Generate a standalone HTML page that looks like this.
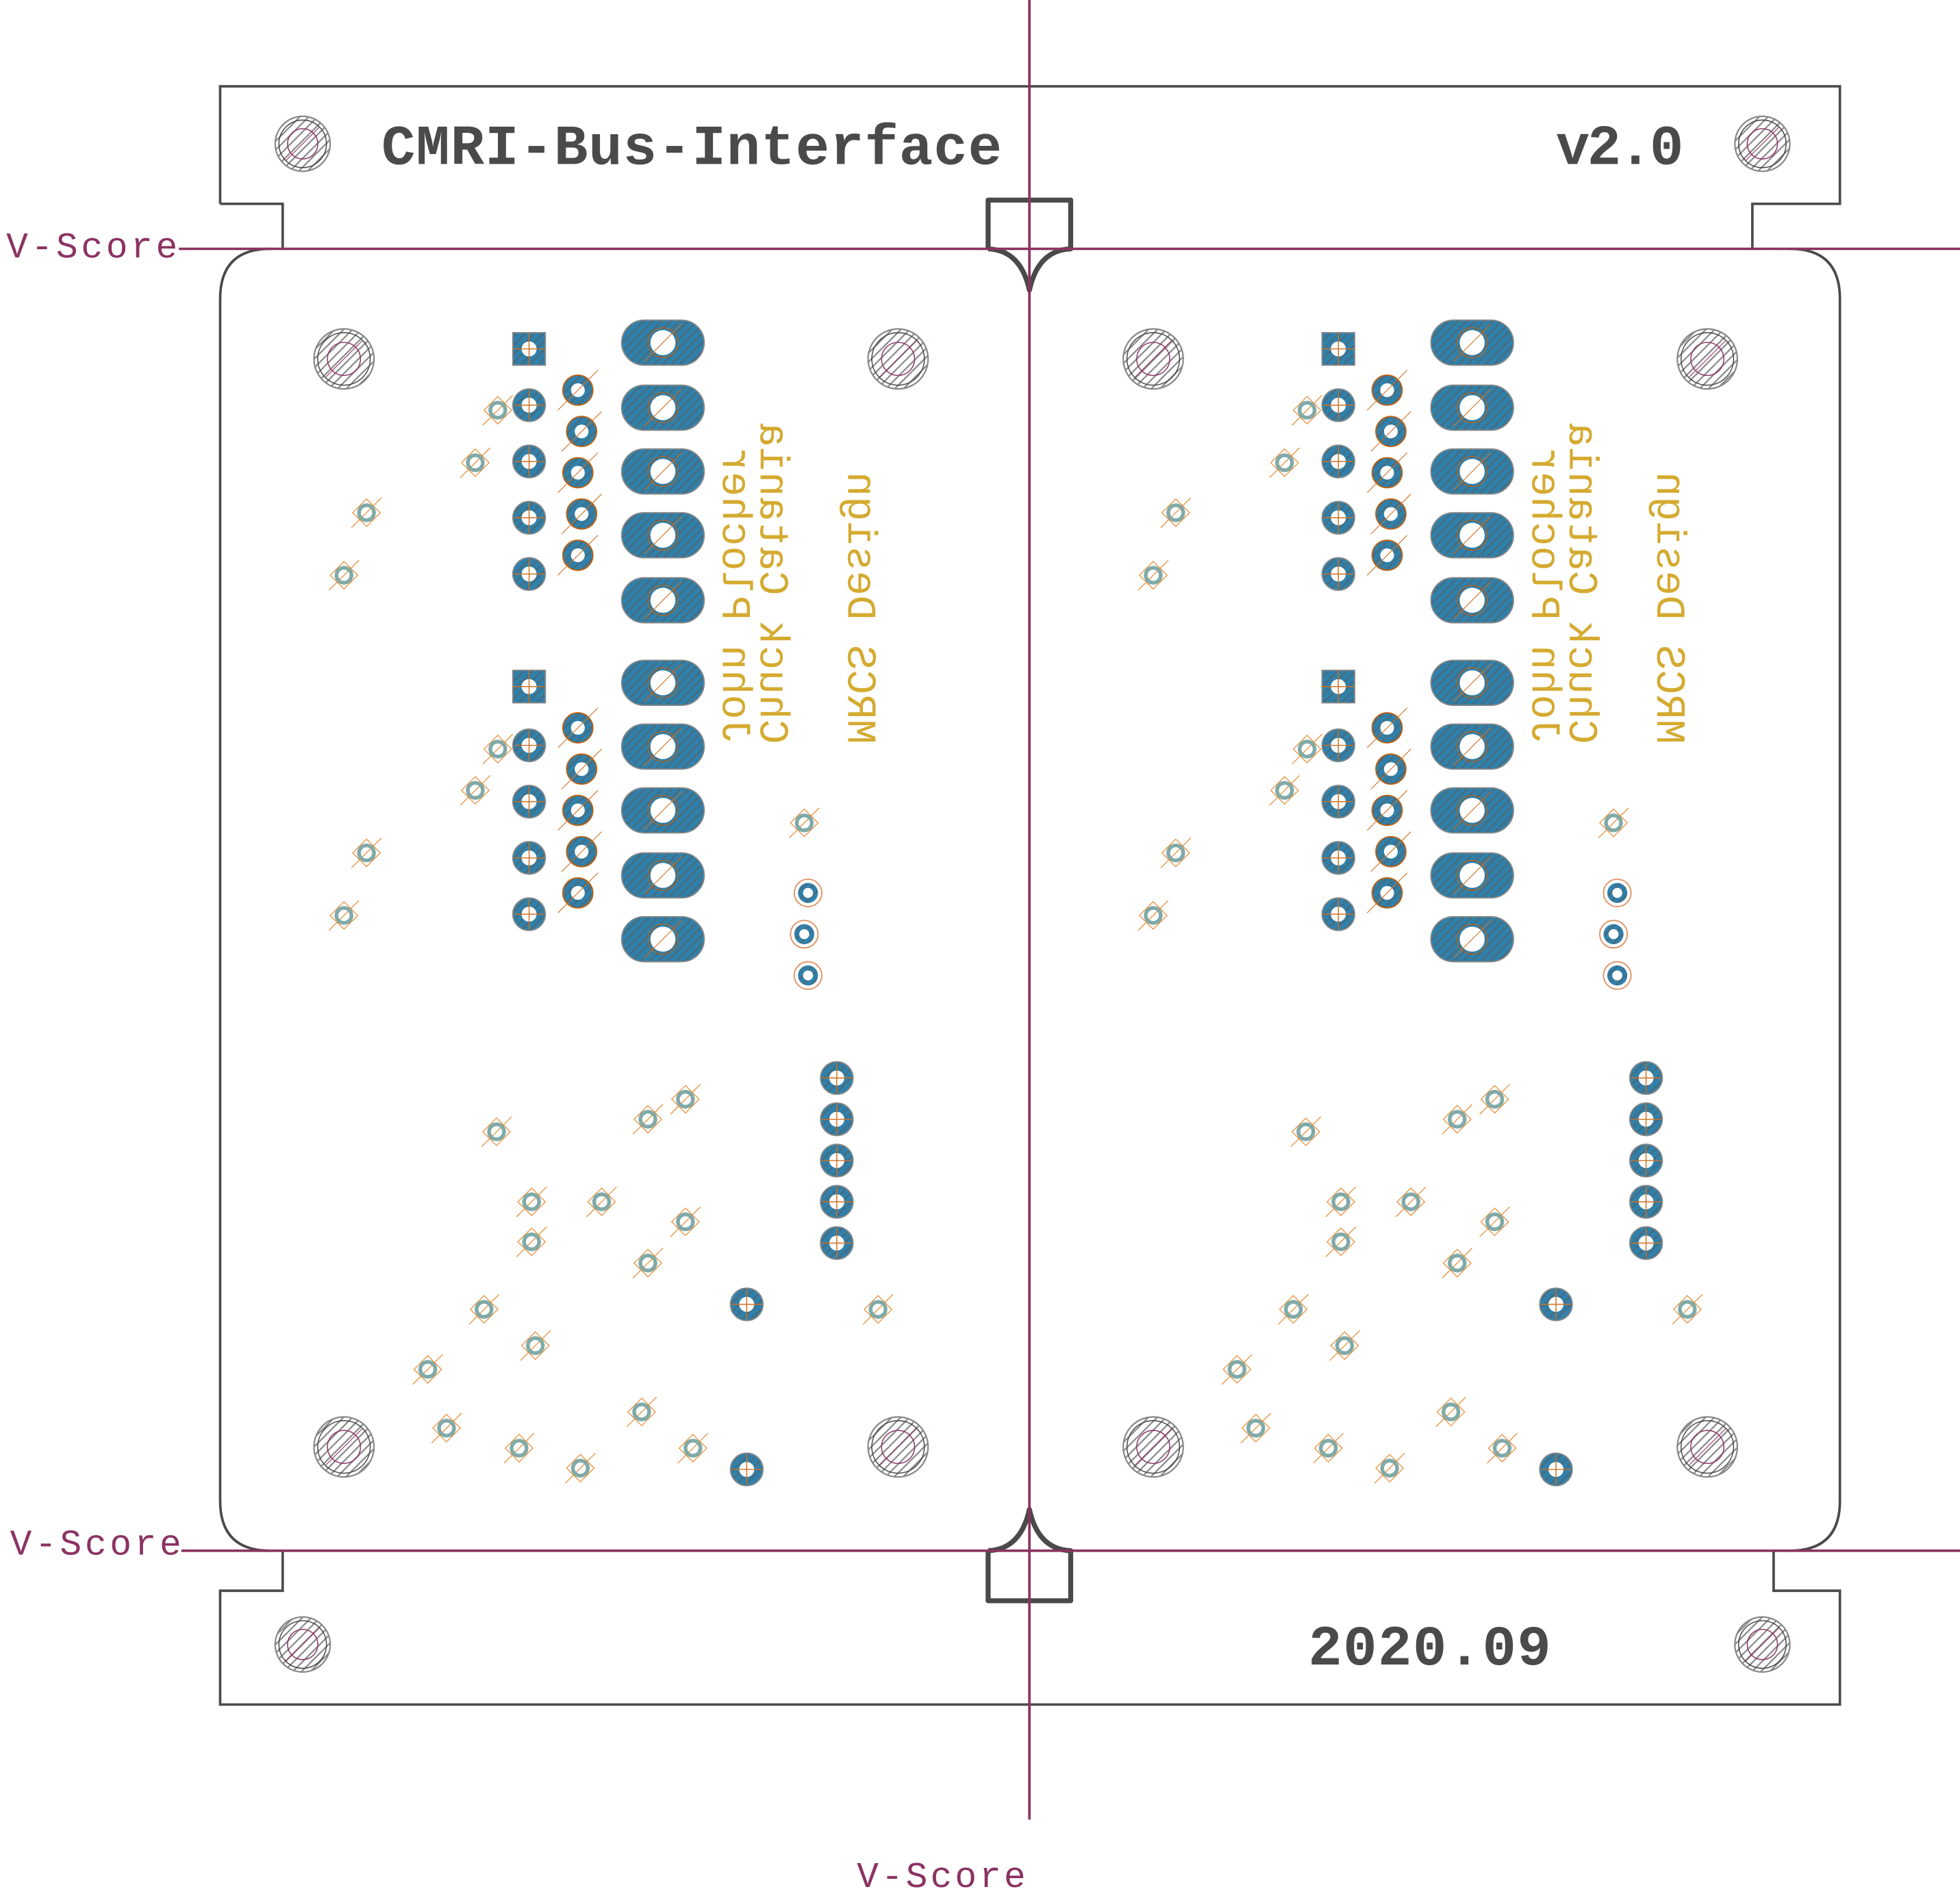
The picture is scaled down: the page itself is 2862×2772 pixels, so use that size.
<!DOCTYPE html>
<html><head><meta charset="utf-8"><style>html,body{margin:0;padding:0;background:#fff}svg{display:block}</style></head>
<body>
<svg id="pcb" xmlns="http://www.w3.org/2000/svg" width="2862" height="2772" viewBox="0 0 1567 1517.7" preserveAspectRatio="none">
<defs>
<pattern id="hb" patternUnits="userSpaceOnUse" width="5" height="5" patternTransform="rotate(45)"><rect width="5" height="5" fill="#2f80aa"/><rect width="1.2" height="5" fill="#4a6a7a"/></pattern>
<pattern id="hg" patternUnits="userSpaceOnUse" width="5" height="5" patternTransform="rotate(45)"><rect width="5" height="5" fill="#fff"/><rect width="1.2" height="5" fill="#888"/></pattern>
</defs>
<g fill="none" stroke="#4a4a4a" stroke-width="2">
<path d="M176,163 L176,69 L1471,69 L1471,163 L1401,163 L1401,199"/>
<path d="M176,163 L226,163 L226,199"/>
<path d="M216,199 Q176,199 176,239 L176,1200 Q176,1240 216,1240"/>
<path d="M1431,199 Q1471,199 1471,239 L1471,1200 Q1471,1240 1431,1240"/>
<path d="M226,1240 L226,1272 L176,1272 L176,1363 L1471,1363 L1471,1272 L1418,1272 L1418,1240"/>
</g>
<g fill="none" stroke="#4a4a4a" stroke-width="4" stroke-linejoin="round">
<path d="M790,199 L790,160 L856,160 L856,199 Q830,200 823,232 Q816,200 790,199"/>
<path d="M790,1240 L790,1280 L856,1280 L856,1240 Q830,1239 823,1207 Q816,1239 790,1240"/>
</g>
<g stroke="#8b3362" stroke-width="2">
<line x1="823" y1="0" x2="823" y2="1455"/>
<line x1="143" y1="199" x2="1567" y2="199"/>
<line x1="145" y1="1240" x2="1567" y2="1240"/>
</g>
<g font-family="Liberation Mono, monospace" font-size="29" fill="#8b3362">
<text x="5" y="206" textLength="137">V-Score</text>
<text x="8" y="1243" textLength="137">V-Score</text>
<text x="685" y="1509" textLength="135">V-Score</text>
</g>
<g font-family="Liberation Mono, monospace" font-weight="bold" fill="#4a4a4a">
<text x="305" y="131" font-size="45" textLength="496">CMRI-Bus-Interface</text>
<text x="1244" y="131" font-size="45" textLength="102">v2.0</text>
<text x="1046" y="1331" font-size="45" textLength="194">2020.09</text>
</g>
<g id="layer"></g>
</svg>
<script>
const NS='http://www.w3.org/2000/svg';
const layer=document.getElementById('layer');
const boardOffsets=[0,647];
const railHoles=[[242,115],[1409,115],[242,1315],[1409,1315]];
const boardHoles=[[275,287],[718,287],[275,1157],[718,1157]];
const squarePads=[[423,279],[423,549]];
const roundPads=[[423,324],[423,369],[423,414],[423,459],[423,596],[423,641],[423,686],[423,731],[669,862],[669,895],[669,928],[669,961],[669,994],[597,1043],[597,1175]];
const smallPads=[[462,312],[465,345],[462,378],[465,411],[462,444],[462,582],[465,615],[462,648],[465,681],[462,714]];
const oblongPads=[[530,274],[530,326],[530,377],[530,428],[530,480],[530,546],[530,597],[530,648],[530,700],[530,751]];
const ringPads=[[646,714],[643,747],[646,780]];
const vias=[[398,328],[380,370],[293,410],[275,460],[398,599],[380,632],[293,682],[275,732],[643,658],[397,905],[518,895],[548,879],[425,961],[481,961],[548,977],[425,993],[518,1010],[387,1047],[428,1076],[702,1047],[342,1095],[357,1142],[415,1158],[464,1174],[513,1129],[554,1158]];
const credits=[['John Plocher',578,595],['Chuck Catania',608,595],['MRCS Design',678,595]];
function el(tag,attrs,parent){const e=document.createElementNS(NS,tag);for(const k in attrs)e.setAttribute(k,attrs[k]);(parent||layer).appendChild(e);return e;}
function hole(x,y,r){
  const g=el('g',{});
  
  
  el('circle',{cx:x,cy:y,r:r,fill:'url(#hg)',stroke:'#888','stroke-width':1.2},g);
  el('circle',{cx:x,cy:y,r:r-3,fill:'none',stroke:'#444','stroke-width':0.8},g);
  el('circle',{cx:x,cy:y,r:r*0.55,fill:'none',stroke:'#8b3362','stroke-width':0.8},g);
  el('line',{x1:x-r*0.6,y1:y+r*0.6,x2:x+r*0.6,y2:y-r*0.6,stroke:'#8b3362','stroke-width':0.6},g);
}
railHoles.forEach(p=>hole(p[0],p[1],22));
boardOffsets.forEach(o=>{
  boardHoles.forEach(p=>hole(p[0]+o,p[1],24));
  squarePads.forEach(p=>{const x=p[0]+o,y=p[1];
    const g=el('g',{});
    
    
    el('rect',{x:x-13,y:y-13,width:26,height:26,fill:'url(#hb)',stroke:'#888','stroke-width':1},g);
    el('circle',{cx:x,cy:y,r:6,fill:'#fff'},g);
    el('path',{d:`M${x-13},${y}H${x+13}M${x},${y-13}V${y+13}`,stroke:'#d07020','stroke-width':0.8},g);});
  roundPads.forEach(p=>{const x=p[0]+o,y=p[1];
    const g=el('g',{});
    
    
    el('circle',{cx:x,cy:y,r:13,fill:'url(#hb)',stroke:'#888','stroke-width':1},g);
    el('circle',{cx:x,cy:y,r:6,fill:'#fff'},g);
    el('path',{d:`M${x-12},${y}H${x+12}M${x},${y-12}V${y+12}`,stroke:'#d07020','stroke-width':0.8},g);});
  smallPads.forEach(p=>{const x=p[0]+o,y=p[1];
    const g=el('g',{});
    
    
    el('circle',{cx:x,cy:y,r:12,fill:'url(#hb)',stroke:'#c06010','stroke-width':1},g);
    el('circle',{cx:x,cy:y,r:5.5,fill:'#fff'},g);
    el('line',{x1:x-16,y1:y+16,x2:x+16,y2:y-16,stroke:'#d07020','stroke-width':0.6},g);});
  oblongPads.forEach(p=>{const x=p[0]+o,y=p[1];
    const g=el('g',{});
    
    
    el('rect',{x:x-33,y:y-18,width:66,height:36,rx:18,fill:'url(#hb)',stroke:'#888','stroke-width':1},g);
    el('circle',{cx:x,cy:y,r:10,fill:'#fff'},g);
    el('circle',{cx:x,cy:y,r:12,fill:'none',stroke:'#c06010','stroke-width':0.6},g);
    el('line',{x1:x-15,y1:y+15,x2:x+15,y2:y-15,stroke:'#d07020','stroke-width':0.6},g);});
  ringPads.forEach(p=>{const x=p[0]+o,y=p[1];
    const g=el('g',{});
    
    
    el('circle',{cx:x,cy:y,r:11,fill:'none',stroke:'#e09060','stroke-width':1},g);
    el('circle',{cx:x,cy:y,r:8,fill:'url(#hb)'},g);
    el('circle',{cx:x,cy:y,r:4,fill:'#fff'},g);});
  vias.forEach(p=>{const x=p[0]+o,y=p[1];
    const g=el('g',{});
    
    
    el('path',{d:`M${x},${y-11}L${x+11},${y}L${x},${y+11}L${x-11},${y}Z M${x-12},${y+12}L${x+12},${y-12}`,fill:'none',stroke:'#e8903a','stroke-width':0.7},g);
    el('circle',{cx:x,cy:y,r:6,fill:'none',stroke:'#80aaa8','stroke-width':3},g);});
  credits.forEach(c=>{
    const t=el('text',{transform:`translate(${c[1]+o},${c[2]}) scale(1,-1) rotate(90)`,'font-family':'Liberation Mono, monospace','font-size':33,fill:'#d4aa30'});
    
    
    t.textContent=c[0];});
});
</script>
</body></html>
